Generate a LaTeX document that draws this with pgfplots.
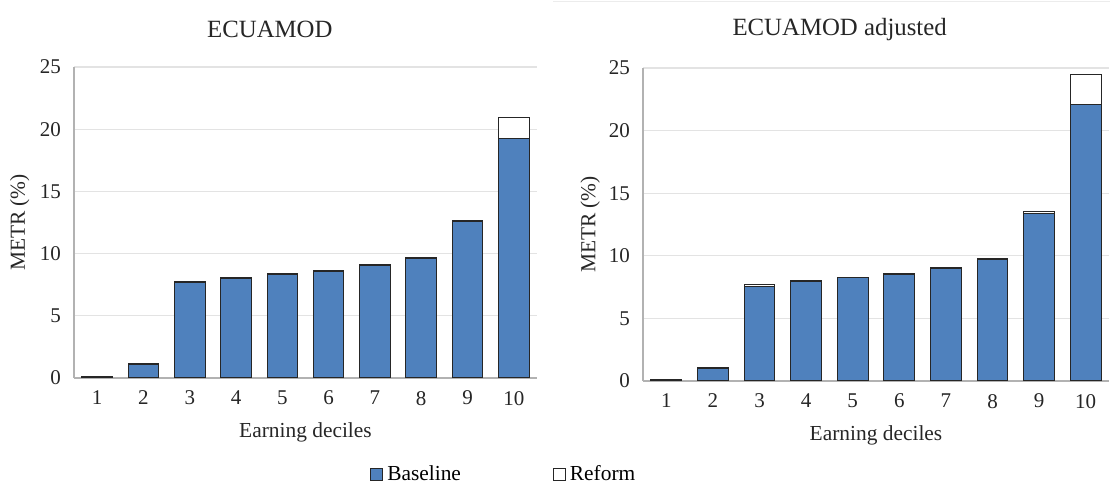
\documentclass[border=0pt]{standalone}
\usepackage{pgfplots}
\pgfplotsset{compat=1.18}
\usepackage{pgfplotstable}
\usepackage{fontspec}
\setmainfont{Liberation Serif}
\definecolor{base}{HTML}{4F81BD}

\pgfplotstableread{
dec base reform
1 0.05 0.05
2 1.05 0.08
3 7.65 0.10
4 8.00 0.08
5 8.30 0.10
6 8.55 0.10
7 9.02 0.10
8 9.58 0.10
9 12.55 0.10
10 19.29 1.63
}\orig
\pgfplotstableread{
dec base reform
1 0.05 0.04
2 1.03 0.08
3 7.58 0.10
4 7.95 0.06
5 8.25 0.05
6 8.50 0.10
7 8.98 0.10
8 9.68 0.10
9 13.40 0.13
10 22.05 2.45
}\adj

\pgfplotsset{
  metr/.style={
    scale only axis,
    ybar stacked, bar width=0.66,
    xmin=0.5, xmax=10.5, ymin=0, ymax=25,
    xtick={1,...,10}, ytick={0,5,...,25},
    major tick length=0,
    ymajorgrids, grid style={gray!22, line width=0.6pt},
    axis x line*=bottom, axis y line*=left,
    axis line style={gray!60, line width=0.6pt},
    /pgf/number format/assume math mode=true,
    tick label style={font=\fontsize{10.5}{12}\selectfont, black!85},
    label style={font=\fontsize{10.7}{12}\selectfont, black!85},
    title style={font=\fontsize{12.4}{14}\selectfont, black!85},
    xticklabel style={yshift=-3pt},
    yticklabel style={xshift=-3pt},
    xlabel={Earning deciles},
    ylabel={METR (\%)},
    xlabel style={at={(axis description cs:0.5,-0.174)}, anchor=center},
    legend image code/.code={\draw[#1, line width=0.5pt] (0pt,-3pt) rectangle (6pt,3pt);},
  },
  bbase/.style={fill=base, draw=black!85, line width=0.5pt},
  breform/.style={fill=white, draw=black!85, line width=0.5pt},
}

\begin{document}
\begin{tikzpicture}
\path[use as bounding box] (0,0) rectangle (555pt,242.5pt);
\draw[gray!15, line width=0.5pt] (276.5pt,241.5pt) -- (555pt,241.5pt);

\begin{axis}[metr, at={(37pt,53.5pt)}, anchor=south west,
  width=231.5pt, height=155.5pt,
  title={ECUAMOD},
  title style={at={(axis description cs:0.423,1.083)}, anchor=center},
  ylabel style={at={(axis description cs:-0.117,0.5)}, anchor=center},
  legend columns=2,
  legend style={at={(axis description cs:0.639,-0.31)}, anchor=west,
    draw=none, inner sep=0pt, font=\fontsize{10.7}{12}\selectfont,
    nodes={inner ysep=0.5pt},
    /tikz/every even column/.append style={column sep=44pt}},
  ]
\addplot[bbase] table[x=dec, y=base] {\orig};
\addplot[breform] table[x=dec, y=reform] {\orig};
\legend{Baseline, Reform}
\end{axis}

\begin{axis}[metr, at={(321.5pt,52pt)}, anchor=south west,
  width=233pt, height=156.5pt,
  title={ECUAMOD adjusted},
  title style={at={(axis description cs:0.422,1.083)}, anchor=center},
  ylabel style={at={(axis description cs:-0.113,0.5)}, anchor=center},
  ]
\addplot[bbase] table[x=dec, y=base] {\adj};
\addplot[breform] table[x=dec, y=reform] {\adj};
\end{axis}
\end{tikzpicture}
\end{document}
